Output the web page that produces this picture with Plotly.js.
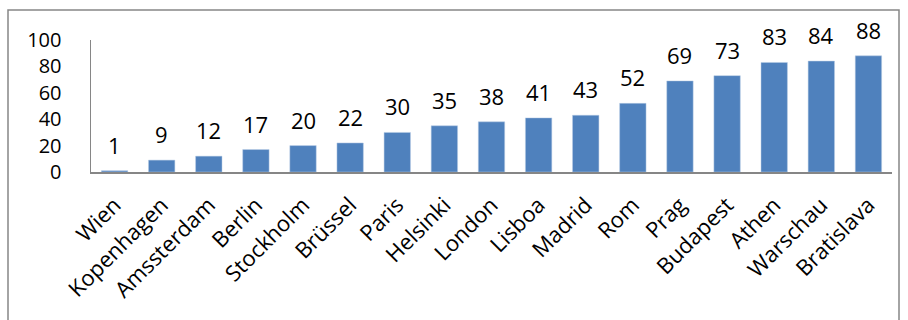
<!DOCTYPE html>
<html><head><meta charset="utf-8">
<script src="https://cdn.plot.ly/plotly-3.0.1.min.js"></script>
<style>html,body{margin:0;padding:0;background:#fff}#c{width:908px;height:320px}</style>
</head><body><div id="c"></div>
<script>
const cities = ["Wien","Kopenhagen","Amssterdam","Berlin","Stockholm","Brüssel","Paris","Helsinki","London","Lisboa","Madrid","Rom","Prag","Budapest","Athen","Warschau","Bratislava"];
const values = [1,9,12,17,20,22,30,35,38,41,43,52,69,73,83,84,88];
const yTicks = [0,20,40,60,80,100];

const font = "Open Sans, Liberation Sans, sans-serif";
const labels = cities.map((c, i) => ({
  x: c, y: values[i], xref: "x", yref: "y", text: String(values[i]),
  showarrow: false, yanchor: "bottom", yshift: 9,
  font: {family: font, size: 22, color: "#000"}
}));
Plotly.newPlot("c", [{
  type: "bar", x: cities, y: values,
  marker: {color: "#4F81BD", line: {color: "#B9CDE5", width: 0.5}}
}], {
  width: 908, height: 320,
  margin: {l: 91, r: 16, t: 40, b: 148},
  paper_bgcolor: "#fff", plot_bgcolor: "#fff",
  bargap: 0.44, showlegend: false,
  font: {family: font, size: 22, color: "#000"},
  annotations: labels,
  xaxis: {tickangle: -45, showline: true, linecolor: "#868686", linewidth: 1.5,
          ticks: "", showgrid: false, zeroline: false, ticklabelstandoff: 10,
          tickfont: {family: font, size: 22, color: "#000"}},
  yaxis: {range: [0, 100], tickvals: yTicks, ticktext: yTicks.map(String),
          showline: true, linecolor: "#868686", linewidth: 1.5, showgrid: false, zeroline: false,
          ticks: "", ticklabelstandoff: 24,
          tickfont: {family: font, size: 20, color: "#000"}},
  shapes: [{type: "rect", xref: "paper", yref: "paper",
            x0: (8 - 91) / 801, x1: (899 - 91) / 801,
            y0: (172 - 330) / 132, y1: (172 - 10) / 132,
            line: {color: "#868686", width: 1.5}, fillcolor: "rgba(0,0,0,0)", layer: "below"}]
}, {displayModeBar: false, staticPlot: true});
</script></body></html>
